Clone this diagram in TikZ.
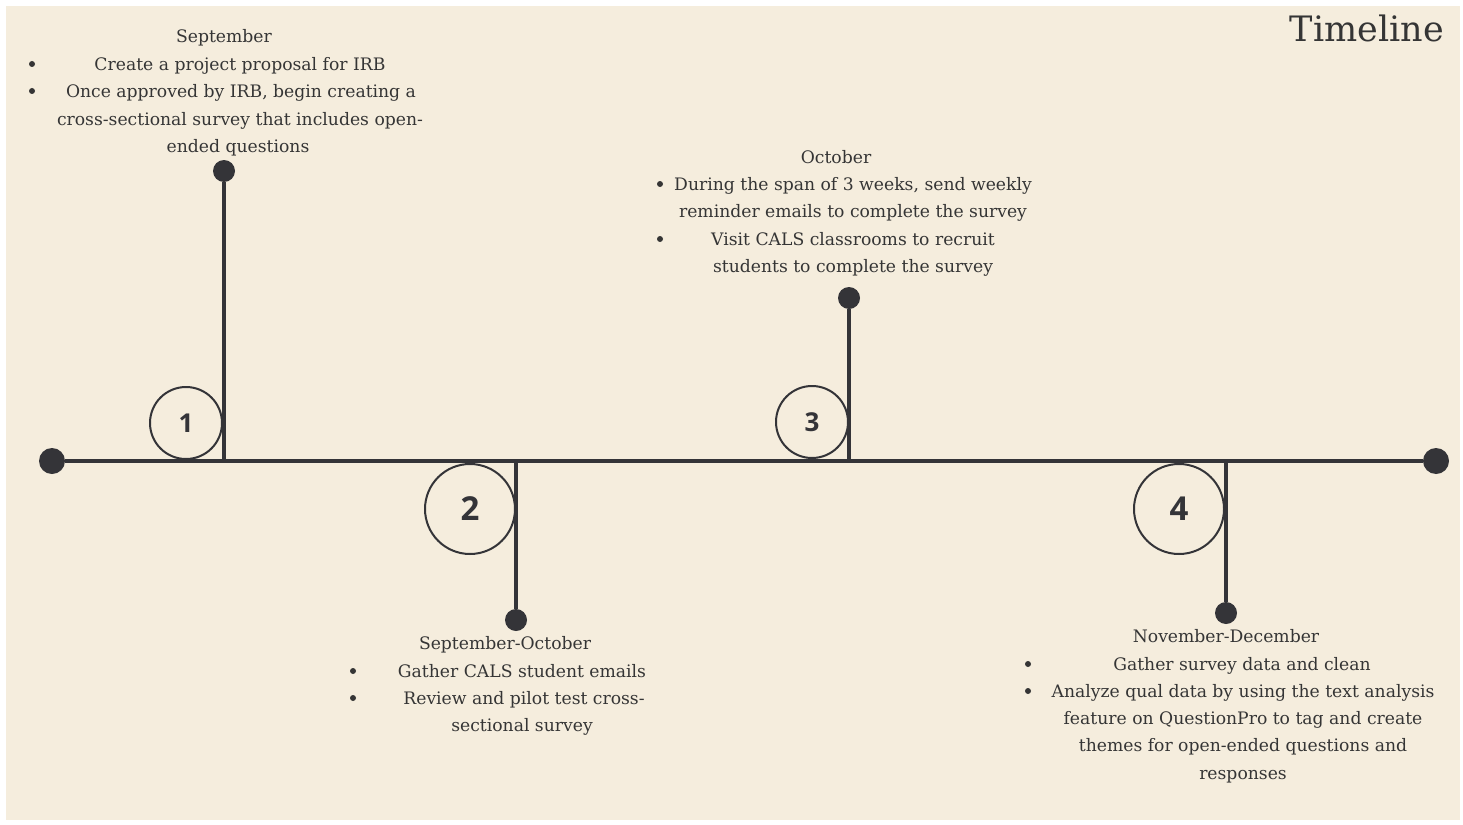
\documentclass[tikz,border=0pt]{standalone}
\usepackage{fontspec}
\setmainfont{DejaVu Serif}
\newfontfamily\numfont{Open Sans}
\definecolor{paper}{HTML}{F5EDDD}
\definecolor{ink}{HTML}{343438}
\definecolor{txt}{HTML}{353535}
\tikzset{
  axis/.style={draw=ink, line width=4pt},
  enddot/.style={circle, fill=ink, minimum size=26pt, inner sep=0pt},
  stemdot/.style={circle, fill=ink, minimum size=22pt, inner sep=0pt},
  numsmall/.style={circle, draw=ink, line width=2pt, fill=paper, minimum size=72pt, inner sep=0pt,
    font=\numfont\bfseries\fontsize{26}{26}\selectfont, text=ink},
  numbig/.style={circle, draw=ink, line width=2pt, fill=paper, minimum size=90pt, inner sep=0pt,
    font=\numfont\bfseries\fontsize{33}{33}\selectfont, text=ink},
  line/.style={anchor=base, inner sep=0pt, text=txt, font=\fontsize{17.2}{24}\selectfont},
  bullet/.style={circle, fill=txt, minimum size=6pt, inner sep=0pt},
}
\begin{document}
\begin{tikzpicture}[x=1pt, y=-1pt]
  % page and paper
  \fill[white] (0,0) rectangle (1463,824);
  \fill[paper] (6,6) rectangle (1460,820);

  % title
  \node[anchor=base east, inner sep=0pt, text=txt, font=\fontsize{35}{35}\selectfont] (title) at (1444,42) {Timeline};

  % main axis
  \node[enddot] (left) at (52,461) {};
  \node[enddot] (right) at (1436,461) {};
  \draw[axis] (left) -- (right);

  % stems with their end dots
  \coordinate (j1) at (224,461);
  \coordinate (j2) at (516,461);
  \coordinate (j3) at (849,461);
  \coordinate (j4) at (1226,461);
  \node[stemdot] (d1) at (224,171) {};
  \node[stemdot] (d2) at (516,620) {};
  \node[stemdot] (d3) at (849,298) {};
  \node[stemdot] (d4) at (1226,613) {};
  \draw[axis] (d1) -- (j1);
  \draw[axis] (d2) -- (j2);
  \draw[axis] (d3) -- (j3);
  \draw[axis] (d4) -- (j4);

  % step numbers
  \node[numsmall] (n1) at (186,423) {1};
  \node[numbig] (n2) at (470,509) {2};
  \node[numsmall] (n3) at (812,422) {3};
  \node[numbig] (n4) at (1179,509) {4};

  % step 1
  \node[line] (t1a) at (224,43) {September};
  \node[bullet] (b1a) at (32,64) {};
  \node[line] (t1b) at (240,71) {Create a project proposal for IRB};
  \node[bullet] (b1b) at (32,91) {};
  \node[line] (t1c) at (241,98) {Once approved by IRB, begin creating a};
  \node[line] (t1d) at (240,125) {cross-sectional survey that includes open-};
  \node[line] (t1e) at (238,152) {ended questions};

  % step 2
  \node[line] (t2a) at (505,649) {September-October};
  \node[bullet] (b2a) at (353,671) {};
  \node[line] (t2b) at (522,677) {Gather CALS student emails};
  \node[bullet] (b2b) at (353,698) {};
  \node[line] (t2c) at (524,704) {Review and pilot test cross-};
  \node[line] (t2d) at (522,731) {sectional survey};

  % step 3
  \node[line] (t3a) at (836,163) {October};
  \node[bullet] (b3a) at (660,184) {};
  \node[line] (t3b) at (853,190) {During the span of 3 weeks, send weekly};
  \node[line] (t3c) at (853,217) {reminder emails to complete the survey};
  \node[bullet] (b3b) at (660,239) {};
  \node[line] (t3d) at (853,245) {Visit CALS classrooms to recruit};
  \node[line] (t3e) at (853,272) {students to complete the survey};

  % step 4
  \node[line] (t4a) at (1226,642) {November-December};
  \node[bullet] (b4a) at (1028,664) {};
  \node[line] (t4b) at (1242,670) {Gather survey data and clean};
  \node[bullet] (b4b) at (1028,691) {};
  \node[line] (t4c) at (1243,697) {Analyze qual data by using the text analysis};
  \node[line] (t4d) at (1243,724) {feature on QuestionPro to tag and create};
  \node[line] (t4e) at (1243,751) {themes for open-ended questions and};
  \node[line] (t4f) at (1243,779) {responses};
\end{tikzpicture}
\end{document}
